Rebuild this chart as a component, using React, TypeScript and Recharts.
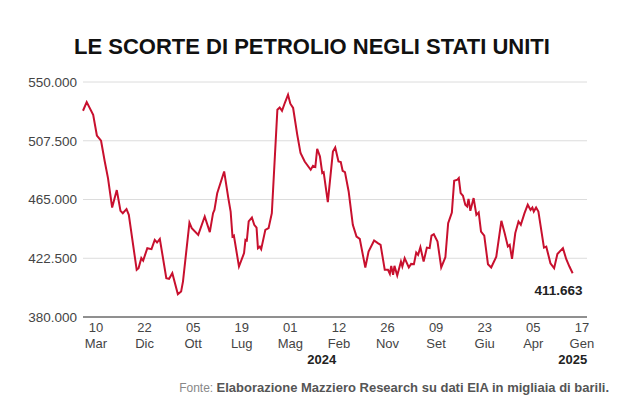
import { LineChart, Line, XAxis, YAxis, CartesianGrid } from 'recharts'

// giorni dall'inizio della serie e scorte (milioni di barili)
const days = [
  0, 8, 22, 30, 39, 47, 54, 63, 73, 81, 86, 94, 99, 116, 120, 126, 130, 139, 148, 155,
  160, 166, 180, 186, 193, 205, 212, 216, 230, 235, 249, 263, 274, 281, 284, 290, 305, 314, 319, 323,
  326, 337, 348, 351, 354, 358, 365, 370, 375, 378, 382, 385, 394, 401, 408, 420, 425, 430, 436, 443,
  448, 454, 463, 470, 479, 492, 497, 502, 506, 512, 517, 520, 529, 540, 545, 552, 557, 561, 566, 574,
  583, 591, 598, 610, 617, 629, 637, 643, 652, 659, 663, 666, 670, 673, 679, 687, 690, 695, 704, 709,
  715, 720, 724, 729, 736, 743, 749, 753, 758, 766, 774, 783, 789, 797, 802, 809, 812, 816, 821, 826,
  830, 833, 837, 844, 850, 855, 860, 867, 875, 882, 893, 904, 911, 918, 922, 927, 934, 941, 946, 954,
  961, 967, 971, 974, 979, 984, 996, 1001, 1010, 1018, 1025, 1037, 1044, 1051, 1058,
]
const stocks = [
  529.2, 535.5, 526.3, 511.3, 507.5, 492.5, 480.5, 459.2, 471.8, 456.8, 455.1, 458.0, 453.9, 414.1, 415.3, 422.6, 420.8, 429.8, 429.1, 435.8,
  433.9, 436.5, 408.1, 407.6, 411.7, 396.5, 398.4, 405.6, 448.3, 444.3, 439.4, 452.7, 441.4, 455.1, 457.5, 469.6, 485.3, 466.0, 456.3, 438.2,
  438.9, 416.5, 426.2, 435.8, 435.3, 449.1, 452.0, 446.7, 444.7, 429.8, 430.9, 429.1, 443.0, 444.3, 455.1, 529.9, 531.6, 529.2, 534.8, 540.8,
  534.3, 531.2, 511.8, 498.6, 492.5, 486.5, 489.4, 488.5, 501.7, 496.1, 484.1, 484.8, 463.1, 499.7, 502.6, 492.5, 492.1, 485.8, 484.8, 470.8,
  446.7, 438.2, 436.5, 415.8, 427.3, 435.3, 433.4, 432.2, 414.1, 414.1, 411.2, 417.0, 410.5, 417.0, 410.0, 420.1, 416.5, 422.6, 415.8, 418.4,
  418.2, 426.6, 424.9, 430.5, 420.1, 430.2, 429.8, 438.9, 439.9, 434.6, 415.8, 423.3, 447.9, 455.6, 478.5, 479.3, 480.5, 469.6, 467.7, 461.2,
  459.9, 465.5, 456.8, 466.0, 453.9, 455.6, 441.8, 438.9, 418.2, 415.8, 423.7, 449.6, 440.7, 431.0, 432.2, 422.0, 440.7, 449.1, 446.7, 455.1,
  461.2, 457.5, 459.2, 456.3, 459.2, 456.3, 430.2, 430.9, 418.9, 415.3, 425.5, 429.8, 422.0, 416.5, 411.663,
]

const tickDays = [28, 133, 238, 343, 448, 553, 658, 763, 868, 973, 1078]
const tickDayLabels = ['10', '22', '05', '19', '01', '12', '26', '09', '23', '05', '17']
const tickMonths = ['Mar', 'Dic', 'Ott', 'Lug', 'Mag', 'Feb', 'Nov', 'Set', 'Giu', 'Apr', 'Gen']
const yearDays = [516, 1058]
const yearLabels = ['2024', '2025']
const yTicks = [380, 422.5, 465, 507.5, 550]

const data = days.map((d, i) => ({ day: d, stock: stocks[i] }))

const RED = '#c8102e'

function fmt(v: number) {
  const n = Math.round(v * 1000)
  return String(n).replace(/\B(?=(\d{3})+(?!\d))/g, '.')
}

function XTick({ x, y, payload }: any) {
  const i = tickDays.indexOf(payload.value)
  return (
    <g>
      <text x={x} y={y + 15} textAnchor="middle" fontSize={13} fill="#444">
        {tickDayLabels[i]}
      </text>
      <text x={x} y={y + 31} textAnchor="middle" fontSize={13} fill="#444">
        {tickMonths[i]}
      </text>
    </g>
  )
}

function YearTick({ x, y, payload }: any) {
  const i = yearDays.indexOf(payload.value)
  return (
    <text x={x} y={y + 11} textAnchor="middle" fontSize={13} fontWeight="bold" fill="#222">
      {yearLabels[i]}
    </text>
  )
}

function LastLabel({ x, y, index }: any) {
  if (index !== stocks.length - 1) return null
  return (
    <text x={x + 10} y={y + 22} textAnchor="end" fontSize={13.5} fontWeight="bold" fill="#222">
      {fmt(stocks[index])}
    </text>
  )
}

export default function App() {
  return (
    <div
      style={{
        position: 'absolute',
        left: 0,
        top: 0,
        width: 624,
        height: 416,
        background: '#fff',
        fontFamily: '"Liberation Sans", Arial, sans-serif',
        overflow: 'hidden',
      }}
    >
      <div
        style={{
          position: 'absolute',
          top: 34,
          left: 0,
          width: 624,
          textAlign: 'center',
          fontSize: 22,
          lineHeight: '26px',
          fontWeight: 'bold',
          color: '#111',
        }}
      >
        LE SCORTE DI PETROLIO NEGLI STATI UNITI
      </div>

      <LineChart
        width={624}
        height={416}
        data={data}
        margin={{ top: 82, right: 37, bottom: 43, left: 0 }}
      >
        <CartesianGrid horizontal vertical={false} stroke="#dcdcdc" />
        <XAxis
          dataKey="day"
          type="number"
          domain={[0, 1089]}
          ticks={tickDays}
          tick={<XTick />}
          tickLine={false}
          tickSize={0}
          tickMargin={0}
          height={36}
          axisLine={{ stroke: '#333' }}
          interval={0}
        />
        <XAxis
          xAxisId="year"
          dataKey="day"
          type="number"
          domain={[0, 1089]}
          ticks={yearDays}
          tick={<YearTick />}
          tickLine={false}
          tickSize={0}
          tickMargin={0}
          height={20}
          axisLine={false}
          interval={0}
        />
        <YAxis
          domain={[380, 550]}
          ticks={yTicks}
          tickFormatter={fmt}
          width={83}
          axisLine={false}
          tickLine={false}
          tickSize={0}
          tickMargin={6}
          tick={{ fontSize: 13.5, fill: '#444' }}
          interval={0}
        />
        <Line
          dataKey="stock"
          type="linear"
          stroke={RED}
          strokeWidth={2}
          dot={false}
          isAnimationActive={false}
          label={<LastLabel />}
        />
      </LineChart>

      <div
        style={{
          position: 'absolute',
          right: 15,
          top: 380,
          fontSize: 13,
          lineHeight: '16px',
          color: '#555',
          whiteSpace: 'nowrap',
        }}
      >
        <span style={{ color: '#888', fontSize: 12 }}>Fonte: </span>
        <b>Elaborazione Mazziero Research su dati EIA in migliaia di barili.</b>
      </div>
    </div>
  )
}
